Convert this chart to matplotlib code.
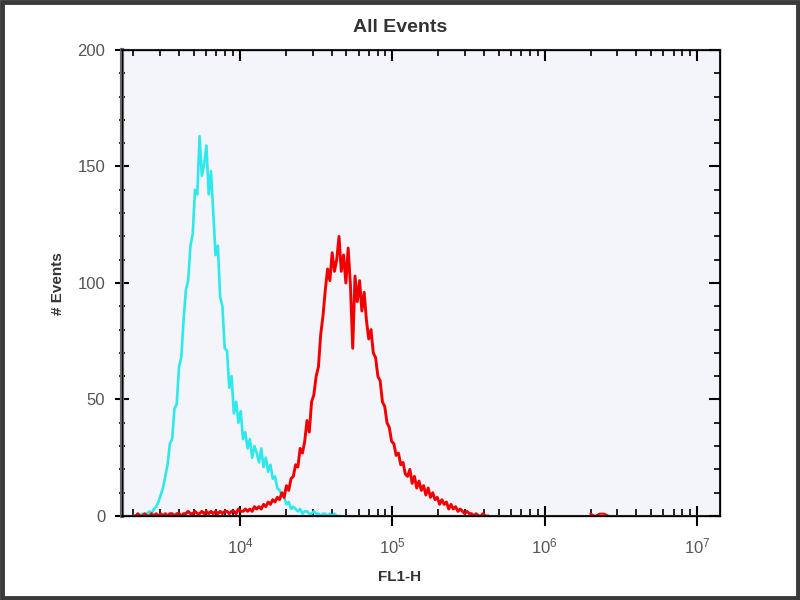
import matplotlib.pyplot as plt
import matplotlib.ticker as mticker
from matplotlib.patches import Rectangle
import numpy as np

plt.rcParams['font.family'] = ['Liberation Sans', 'DejaVu Sans']

# histogram channels: log10 start and bin width (decades)
log_start = 3.30
log_step = 0.015

# cyan histogram (control), counts per channel
cyan_counts = [0, 0, 0, 0, 1, 0, 1, 2, 1, 3,
               4, 6, 9, 12, 17, 22, 31, 33, 46, 48,
               64, 68, 84, 97, 101, 116, 121, 140, 138, 163,
               146, 151, 159, 138, 148, 130, 112, 116, 94, 90,
               72, 71, 55, 60, 44, 49, 40, 45, 33, 36,
               29, 33, 25, 30, 27, 23, 29, 21, 25, 19,
               22, 16, 17, 12, 11, 9, 8, 5, 6, 3,
               4, 3, 2, 3, 1, 2, 2, 1, 1, 2,
               1, 1, 0, 1, 1, 0, 1, 0, 1, 0, 0]

# red histogram (stained sample), counts per channel
red_counts = [0, 0, 1, 0, 0, 1, 0, 0, 1, 0,
              1, 0, 1, 0, 1, 0, 1, 1, 0, 1,
              1, 0, 1, 1, 2, 1, 1, 2, 1, 1,
              2, 1, 2, 1, 2, 1, 2, 1, 2, 1,
              2, 2, 1, 2, 2, 1, 3, 2, 2, 3,
              2, 3, 2, 4, 3, 4, 3, 5, 4, 6,
              5, 7, 6, 8, 7, 10, 8, 13, 11, 16,
              17, 22, 21, 29, 27, 32, 41, 36, 49, 52,
              60, 64, 78, 86, 97, 106, 101, 113, 105, 110,
              120, 105, 112, 100, 115, 99, 72, 103, 92, 101,
              88, 96, 84, 76, 80, 70, 68, 60, 58, 49,
              47, 40, 38, 32, 31, 26, 27, 22, 23, 18,
              17, 20, 14, 17, 12, 15, 11, 13, 9, 12,
              8, 10, 7, 8, 5, 7, 5, 6, 3, 5,
              3, 4, 2, 3, 2, 1, 2, 1, 1, 0,
              1, 0, 0, 1, 0, 0]

# a few stray red events far out
red_far_log = [6.30, 6.33, 6.36, 6.39, 6.42]
red_far_counts = [1, 0, 1, 1, 0]

cyan_x = 10 ** (log_start + log_step * np.arange(len(cyan_counts)))
red_x = 10 ** (log_start + log_step * np.arange(len(red_counts)))
red_far_x = 10 ** np.array(red_far_log)

fig = plt.figure(figsize=(8, 6), dpi=100)
fig.patch.set_facecolor('white')
fig.patches.append(Rectangle((0.002, 0.003), 0.996, 0.994, transform=fig.transFigure,
                             fill=False, edgecolor='#3a3a3a', linewidth=3.5))

ax = fig.add_axes([0.1525, 0.14, 0.7475, 0.7767])
ax.set_facecolor('#f4f4fb')

ax.plot(cyan_x, cyan_counts, color='#2ee8ec', linewidth=1.9)
ax.plot(red_x, red_counts, color='#f20000', linewidth=2.1)
ax.plot(red_far_x, red_far_counts, color='#f20000', linewidth=1.5)

ax.set_xscale('log')
ax.set_xlim(10 ** 3.226, 10 ** 7.15)
ax.set_ylim(0, 200)

ax.xaxis.set_major_locator(mticker.FixedLocator([1e4, 1e5, 1e6, 1e7]))
ax.xaxis.set_major_formatter(mticker.LogFormatterMathtext())
ax.xaxis.set_minor_locator(mticker.LogLocator(base=10, subs=np.arange(2, 10), numticks=20))
ax.xaxis.set_minor_formatter(mticker.NullFormatter())
ax.yaxis.set_major_locator(mticker.MultipleLocator(50))
ax.yaxis.set_minor_locator(mticker.MultipleLocator(10))

ax.tick_params(axis='x', which='major', direction='inout', length=14, width=1.5,
               labelsize=12, labelcolor='#555555', pad=8, top=False)
ax.tick_params(axis='x', which='minor', direction='in', length=5, width=1.2, top=False)
ax.tick_params(axis='y', which='major', direction='inout', length=10, width=1.5,
               labelsize=12, labelcolor='#555555', pad=7, right=False)
ax.tick_params(axis='y', which='minor', direction='inout', length=5, width=1.2, right=False)

for side in ['top', 'right', 'bottom']:
    ax.spines[side].set_color('#222222')
    ax.spines[side].set_linewidth(1.5)
ax.spines['left'].set_color('#6a6a6a')
ax.spines['left'].set_linewidth(3)

# inward ticks on top and right
ax_top = ax.twiny()
ax_top.set_xscale('log')
ax_top.set_xlim(ax.get_xlim())
ax_top.xaxis.set_major_locator(mticker.FixedLocator([1e4, 1e5, 1e6, 1e7]))
ax_top.xaxis.set_minor_locator(mticker.LogLocator(base=10, subs=np.arange(2, 10), numticks=20))
ax_top.tick_params(axis='x', which='major', direction='in', length=8, width=1.5,
                   labeltop=False, top=True, bottom=False)
ax_top.tick_params(axis='x', which='minor', direction='in', length=4, width=1.2,
                   labeltop=False, top=True, bottom=False)
ax_top.xaxis.set_minor_formatter(mticker.NullFormatter())

ax_right = ax.twinx()
ax_right.set_ylim(ax.get_ylim())
ax_right.yaxis.set_major_locator(mticker.MultipleLocator(50))
ax_right.yaxis.set_minor_locator(mticker.MultipleLocator(10))
ax_right.tick_params(axis='y', which='major', direction='in', length=8, width=1.5,
                     labelright=False, right=True, left=False)
ax_right.tick_params(axis='y', which='minor', direction='in', length=4, width=1.2,
                     labelright=False, right=True, left=False)

fig.text(0.5, 0.955, 'All Events', ha='center', va='center', fontsize=14,
         fontweight='bold', color='#333333')
fig.text(0.5, 0.038, 'FL1-H', ha='center', va='center', fontsize=11,
         fontweight='bold', color='#333333')
fig.text(0.072, 0.528, '# Events', ha='center', va='center', fontsize=11,
         fontweight='bold', color='#333333', rotation=90)

fig.savefig('out.png', dpi=100)
